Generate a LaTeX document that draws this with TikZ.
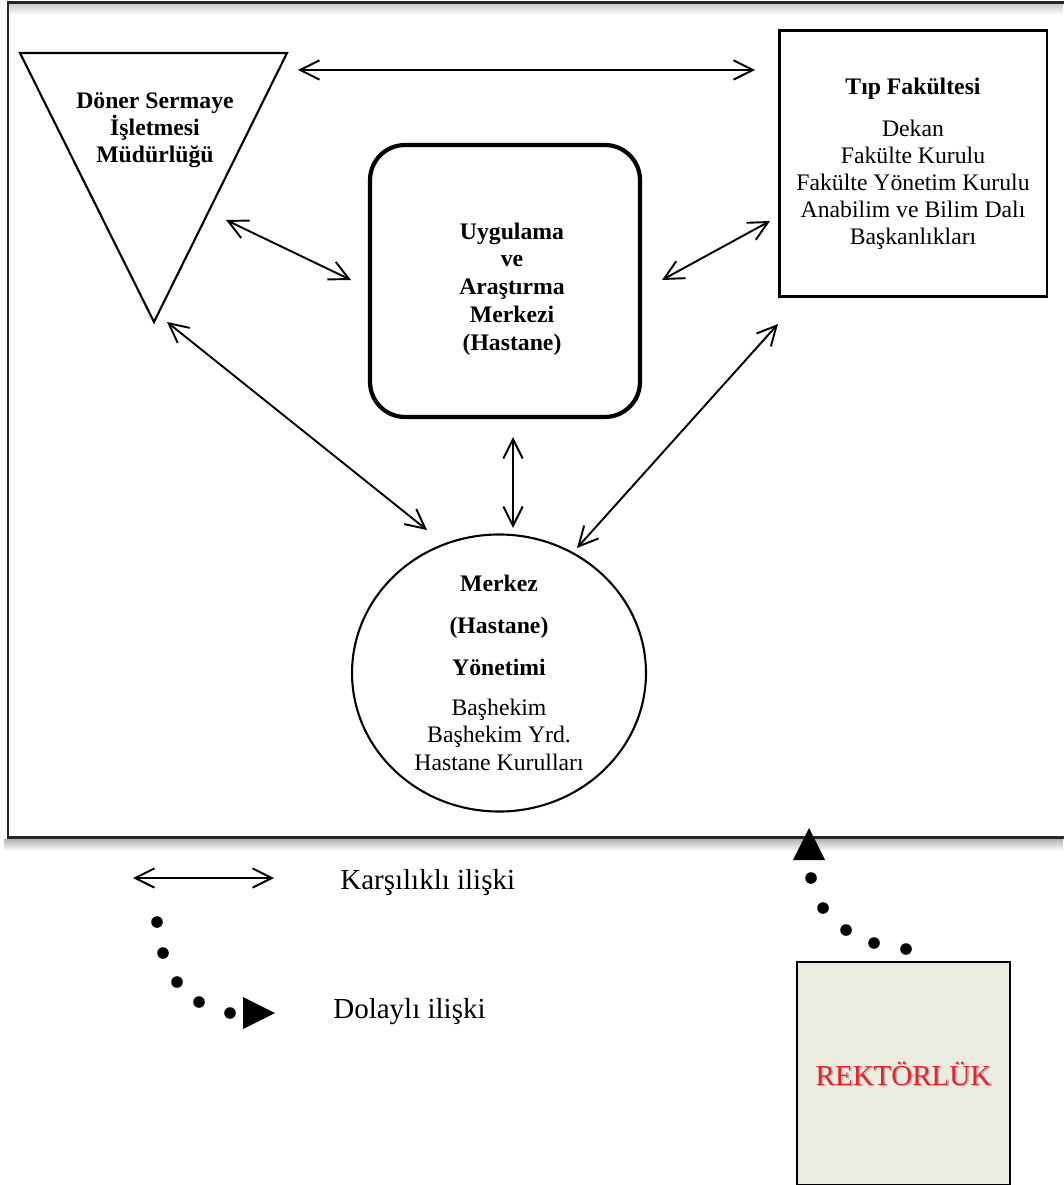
\documentclass[tikz,border=0pt]{standalone}
\usepackage{fontspec}
\setmainfont{Liberation Serif}
\usepackage{tikz}
\usetikzlibrary{arrows.meta, shapes.geometric, calc}
\usepackage{xcolor}
\definecolor{rekred}{HTML}{E8212A}
\definecolor{rekfill}{HTML}{EBEBE0}

\begin{document}
\begin{tikzpicture}[x=0.02cm, y=-0.02cm, >={Straight Barb[length=11pt,width=11pt]},
  link/.style={<->, line width=1.1pt},
  txt/.style={font=\fontsize{13.5}{15.8}\selectfont, align=center, inner sep=0pt},
  legendtxt/.style={font=\fontsize{16.5}{19}\selectfont, inner sep=0pt, anchor=west},
  unitbox/.style={draw, txt, line width=1.7pt}]
  \useasboundingbox (0,0) rectangle (1063,1185);

  % frame with its shadow
  \shade[top color=black!30, bottom color=white] (4,839) rectangle (1063,851);
  \shade[top color=black!18, bottom color=white] (9,5) rectangle (1063,15);
  \draw[line width=1.7pt, black!85] (8,3) rectangle (1068,837);

  \coordinate (TL) at (20,53);
  \coordinate (TR) at (287,53);
  \coordinate (TB) at (154,322);
  \draw[line width=1.2pt, line join=miter] (TL) -- (TR) -- (TB) -- cycle;
  \node[txt, font=\fontsize{13.5}{15.4}\bfseries] (doner) at (155,130)
    {Döner Sermaye\\İşletmesi\\Müdürlüğü};

  \node[unitbox, font=\fontsize{13.5}{15.3}\selectfont, minimum width=5.36cm,
    minimum height=5.34cm] (tip) at (913,163.5)
    {\textbf{Tıp Fakültesi}\\[9pt]Dekan\\Fakülte Kurulu\\Fakülte Yönetim Kurulu\\Anabilim ve Bilim Dalı\\Başkanlıkları};

  \node[draw, line width=2.4pt, rounded corners=0.7cm, minimum width=5.4cm,
    minimum height=5.44cm] (merkez) at (505,281) {};
  \node[txt, font=\fontsize{13.5}{15.8}\bfseries] (merkeztxt) at ($(merkez)+(7,8)$)
    {Uygulama\\ve\\Araştırma\\Merkezi\\(Hastane)};

  \node[ellipse, draw, txt, line width=1.2pt, minimum width=5.88cm, minimum height=5.3cm]
    (hastane) at (499,673)
    {\textbf{Merkez}\\[8pt]\textbf{(Hastane)}\\[8pt]\textbf{Yönetimi}\\[7pt]Başhekim\\Başhekim Yrd.\\Hastane Kurulları};

  % connectors
  \coordinate (A1) at (298,70);   \coordinate (B1) at (755,70);
  \coordinate (A2) at (226,220);  \coordinate (B2) at (351,280);
  \coordinate (A3) at (662,280);  \coordinate (B3) at (770,221);
  \coordinate (A4) at (167,322);  \coordinate (B4) at (427,530);
  \coordinate (A5) at (513,437);  \coordinate (B5) at (513,528);
  \coordinate (A6) at (577,548);  \coordinate (B6) at (778,324);
  \foreach \i in {1,...,6}
    \draw[link] (A\i) -- (B\i);

  % rektorluk
  \node[draw, fill=rekfill, line width=1.3pt, minimum width=4.26cm, minimum height=4.46cm]
    (rek) at (903.5,1073.5) {};
  \node[text=black!30, font=\fontsize{16.5}{18}\selectfont] (rekshadow) at ($(rek)+(1.5,1.5)$) {REKTÖRLÜK};
  \node[text=rekred, font=\fontsize{16.5}{18}\selectfont] (reklabel) at (rek) {REKTÖRLÜK};

  \foreach \p in {(906,949),(874,943),(846,930),(823,908),(811,878)}
    \fill \p circle (5.8);
  \coordinate (RT) at (809,828);
  \fill (793,860) -- (RT) -- (825,860) -- cycle;

  % legend
  \coordinate (K1) at (133,878);
  \coordinate (K2) at (274,878);
  \draw[link] (K1) -- (K2);
  \node[legendtxt] (karsi) at (340,883) {Karşılıklı ilişki};

  \foreach \p in {(157,922),(163,953),(177,982),(199,1002),(230,1013)}
    \fill \p circle (5.8);
  \coordinate (DT) at (275,1013);
  \fill (243,997) -- (DT) -- (243,1029) -- cycle;
  \node[legendtxt] (dolay) at (333,1012) {Dolaylı ilişki};
\end{tikzpicture}
\end{document}
